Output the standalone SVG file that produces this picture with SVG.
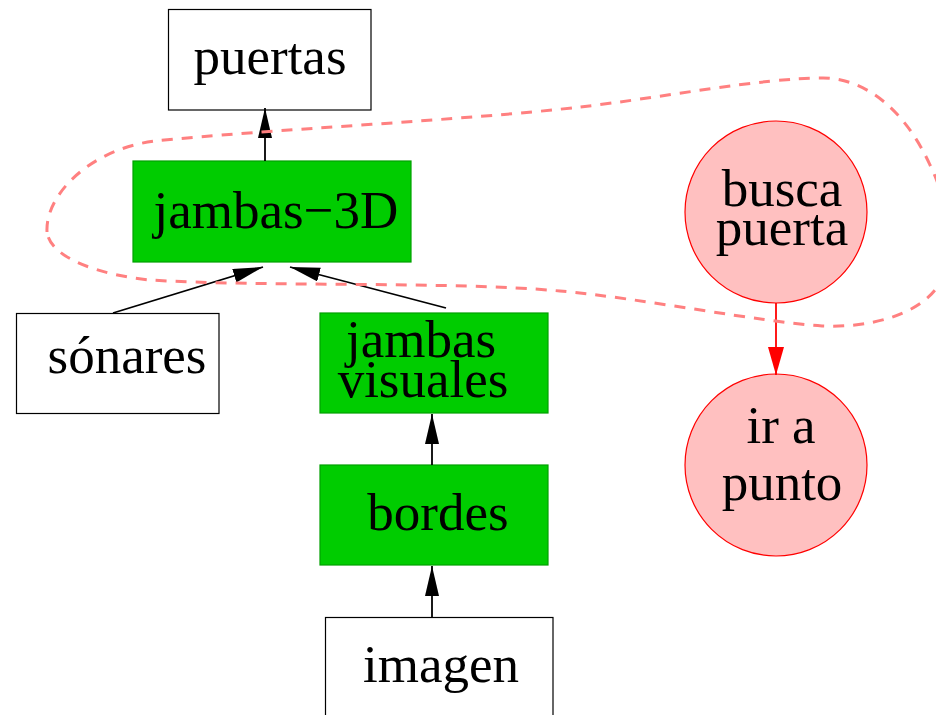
<svg xmlns="http://www.w3.org/2000/svg" width="936" height="715" viewBox="0 0 936 715">
  <style>
    .label { font-family: "Liberation Serif", "Times New Roman", serif; font-size: 53px; fill: #000; text-anchor: middle; }
    .plain { fill: #fff; stroke: #000; stroke-width: 1.2; }
    .green { fill: #00cc00; stroke: #00a000; stroke-width: 1.2; }
    .state { fill: #ffc0c0; stroke: #ff0000; stroke-width: 1.2; }
    .edge { fill: none; stroke: #000; stroke-width: 1.8; marker-end: url(#arrow); }
    .edge-red { fill: none; stroke: #ff0000; stroke-width: 1.8; marker-end: url(#arrow-red); }
    .region { fill: none; stroke: #ff8080; stroke-width: 3; stroke-dasharray: 11 9; }
  </style>
  <defs>
    <marker id="arrow" markerUnits="userSpaceOnUse" markerWidth="31" markerHeight="15" refX="30" refY="7" orient="auto">
      <path d="M0,0 L30,7 L0,14 z" fill="#000"/>
    </marker>
    <marker id="arrow-red" markerUnits="userSpaceOnUse" markerWidth="31" markerHeight="17" refX="28" refY="8" orient="auto">
      <path d="M0,0 L28,8 L0,16 z" fill="#ff0000"/>
    </marker>
  </defs>

  <!-- nodes -->
  <g id="puertas">
    <rect class="plain" x="168.5" y="9.5" width="202.5" height="100.5"/>
    <text class="label" x="270" y="74">puertas</text>
  </g>
  <g id="jambas-3d">
    <rect class="green" x="133" y="161" width="278" height="101"/>
    <text class="label" x="276" y="228">jambas−3D</text>
  </g>
  <g id="sonares">
    <rect class="plain" x="16.5" y="313.5" width="202.5" height="100"/>
    <text class="label" x="127" y="373">sónares</text>
  </g>
  <g id="jambas-visuales">
    <rect class="green" x="320" y="313" width="228" height="100"/>
    <text class="label" x="421" y="357">jambas</text>
    <text class="label" x="423" y="397">visuales</text>
  </g>
  <g id="bordes">
    <rect class="green" x="320" y="465" width="228" height="100"/>
    <text class="label" x="438" y="530">bordes</text>
  </g>
  <g id="imagen">
    <rect class="plain" x="325.5" y="617.5" width="227.5" height="110"/>
    <text class="label" x="441" y="682">imagen</text>
  </g>
  <g id="busca-puerta">
    <circle class="state" cx="776" cy="212" r="91"/>
    <text class="label" x="782" y="206">busca</text>
    <text class="label" x="782" y="245">puerta</text>
  </g>
  <g id="ir-a-punto">
    <circle class="state" cx="776" cy="465" r="91"/>
    <text class="label" x="781" y="443">ir a</text>
    <text class="label" x="782" y="500">punto</text>
  </g>

  <!-- connectors -->
  <g id="connectors">
    <line class="edge" x1="265" y1="161" x2="265" y2="108"/>
    <line class="edge" x1="113" y1="313" x2="263" y2="267"/>
    <line class="edge" x1="446" y1="308" x2="290" y2="267"/>
    <line class="edge" x1="432" y1="465" x2="432" y2="414"/>
    <line class="edge" x1="432" y1="617" x2="432" y2="566"/>
    <line class="edge-red" x1="776" y1="303" x2="776" y2="375"/>
  </g>

  <!-- dashed grouping outline -->
  <path class="region" d="M47,232 C45,195 90,149 155,141 C260,130 470,120 580,107 C660,98 760,78 823,78 C865,78 905,110 930,165 C950,205 955,260 935,290 C915,315 870,328 822,326 C760,322 640,298 560,291 C450,281 260,287 150,280 C100,275 50,258 47,232 Z"/>
</svg>
